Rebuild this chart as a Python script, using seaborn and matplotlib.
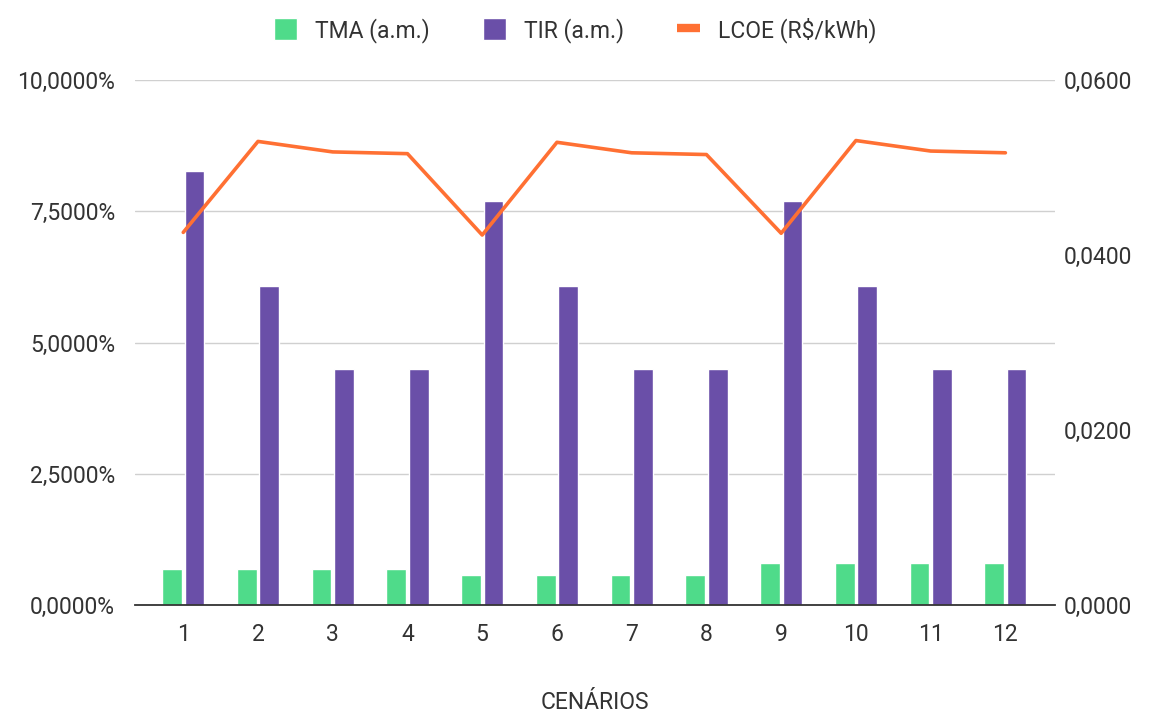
import pandas as pd
import matplotlib
matplotlib.use("Agg")
import matplotlib.pyplot as plt
from matplotlib.ticker import FuncFormatter
from matplotlib.lines import Line2D
from matplotlib.patches import Patch
import seaborn as sns

# dados
cenarios = ["1", "2", "3", "4", "5", "6", "7", "8", "9", "10", "11", "12"]
tma = [0.68, 0.68, 0.68, 0.68, 0.57, 0.57, 0.57, 0.57, 0.80, 0.80, 0.80, 0.80]
tir = [8.27, 6.08, 4.50, 4.50, 7.70, 6.08, 4.50, 4.50, 7.70, 6.08, 4.50, 4.50]
lcoe = [0.0426, 0.0530, 0.0518, 0.0516, 0.0423, 0.0529, 0.0517, 0.0515,
        0.0425, 0.0531, 0.0519, 0.0517]

cor_tma = "#4fdb8a"
cor_tir = "#6a4fa8"
cor_lcoe = "#ff7033"
cor_txt = "#333333"
fs = 16.5

sns.set_theme(style="white")
plt.rcParams["font.family"] = ["Roboto", "DejaVu Sans"]

df = pd.DataFrame({
    "cenario": cenarios * 2,
    "valor": tma + tir,
    "serie": ["TMA (a.m.)"] * len(cenarios) + ["TIR (a.m.)"] * len(cenarios),
})

fig = plt.figure(figsize=(11.51, 7.16), dpi=100)
ax = fig.add_axes([0.117, 0.155, 0.8, 0.733])

sns.barplot(data=df, x="cenario", y="valor", hue="serie",
            palette=[cor_tma, cor_tir], width=0.6, gap=0.12,
            ax=ax, legend=False, saturation=1)

ax.set_ylim(0, 10)
ax.set_yticks([0, 2.5, 5, 7.5, 10])
ax.yaxis.set_major_formatter(FuncFormatter(lambda v, p: f"{v:.4f}%".replace(".", ",")))
ax.set_xlim(-0.65, 11.67)
ax.grid(axis="y", color="#d0d0d0", linewidth=1)
ax.set_axisbelow(True)
for s in ["top", "right", "left"]:
    ax.spines[s].set_visible(False)
ax.spines["bottom"].set_color(cor_txt)
ax.spines["bottom"].set_linewidth(1.3)
ax.tick_params(axis="y", length=0, labelsize=fs, colors=cor_txt, pad=14)
ax.tick_params(axis="x", length=0, labelsize=fs, colors=cor_txt, pad=13)
ax.set_ylabel("")
ax.set_xlabel("CENÁRIOS", fontsize=fs, color=cor_txt, labelpad=32)

ax2 = ax.twinx()
sns.lineplot(x=list(range(len(cenarios))), y=lcoe, ax=ax2, color=cor_lcoe,
             linewidth=2.6)
ax2.set_ylim(0, 0.06)
ax2.set_yticks([0, 0.02, 0.04, 0.06])
ax2.yaxis.set_major_formatter(FuncFormatter(lambda v, p: f"{v:.4f}".replace(".", ",")))
for s in ["top", "right", "left", "bottom"]:
    ax2.spines[s].set_visible(False)
ax2.tick_params(axis="y", length=0, labelsize=fs, colors=cor_txt, pad=6)
ax2.grid(False)

handles = [
    Patch(facecolor=cor_tma, label="TMA (a.m.)"),
    Patch(facecolor=cor_tir, label="TIR (a.m.)"),
    Line2D([0], [0], color=cor_lcoe, linewidth=6, solid_capstyle="butt",
           label="LCOE (R$/kWh)"),
]
fig.legend(handles=handles, loc="upper center", bbox_to_anchor=(0.5, 1.005),
           ncol=3, frameon=False, fontsize=fs, handlelength=1.0,
           handleheight=1.1, columnspacing=2.3, handletextpad=0.8,
           labelcolor=cor_txt)

fig.savefig("out.png", dpi=100)
